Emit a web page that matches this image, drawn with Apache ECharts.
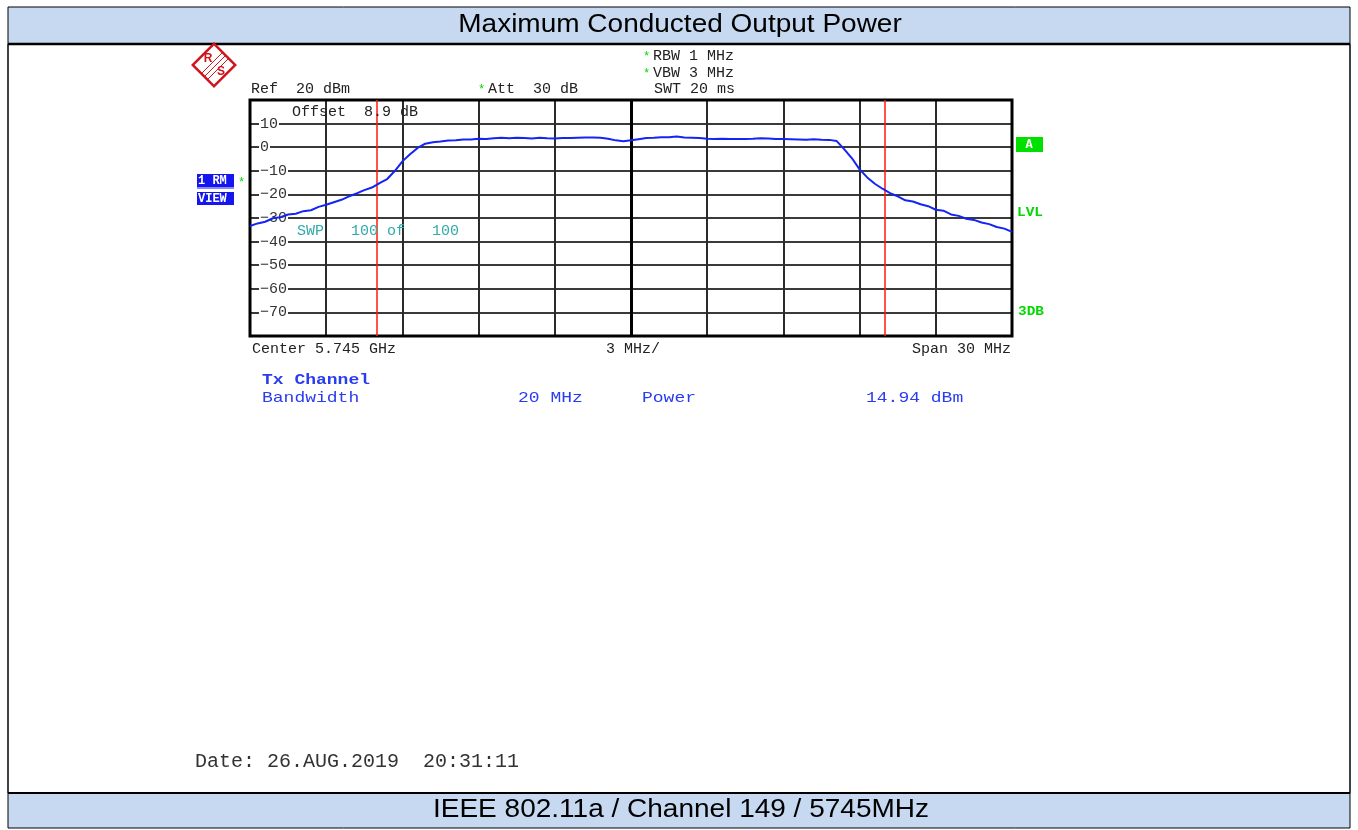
<!DOCTYPE html>
<html>
<head>
<meta charset="utf-8">
<title>Maximum Conducted Output Power</title>
<script src="https://cdn.jsdelivr.net/npm/echarts/dist/echarts.min.js"></script>
<style>
    html, body { margin: 0; padding: 0; background: #fff; }
    #main { width: 1358px; height: 830px; }
</style>
</head>
<body>
<div id="main"></div>
<script>
// sweep points, offset from center 5.745 GHz (MHz)
const freqMHz = [
    -15.0, -14.7, -14.4, -14.1, -13.8, -13.5, -13.2, -12.9, -12.6, -12.3,
    -12.0, -11.7, -11.4, -11.1, -10.8, -10.5, -10.2, -9.9, -9.6, -9.3,
    -9.0, -8.7, -8.4, -8.1, -7.8, -7.5, -7.2, -6.9, -6.6, -6.3,
    -6.0, -5.7, -5.4, -5.1, -4.8, -4.5, -4.2, -3.9, -3.6, -3.3,
    -3.0, -2.7, -2.4, -2.1, -1.8, -1.5, -1.2, -0.9, -0.6, -0.3,
    0.0, 0.3, 0.6, 0.9, 1.2, 1.5, 1.8, 2.1, 2.4, 2.7,
    3.0, 3.3, 3.6, 3.9, 4.2, 4.5, 4.8, 5.1, 5.4, 5.7,
    6.0, 6.3, 6.6, 6.9, 7.2, 7.5, 7.8, 8.1, 8.4, 8.7,
    9.0, 9.3, 9.6, 9.9, 10.2, 10.5, 10.8, 11.1, 11.4, 11.7,
    12.0, 12.3, 12.6, 12.9, 13.2, 13.5, 13.8, 14.1, 14.4, 14.7,
    15.0
]
// trace level (dBm)
const levelDbm = [
    -33.4, -32.3, -31.6, -30.1, -29.7, -28.5, -28.2, -27.1, -26.7, -25.3,
    -24.4, -23.3, -22.3, -20.8, -19.6, -18.2, -17.1, -15.2, -13.5, -10.1,
    -6.0, -3.0, -0.3, 1.5, 2.1, 2.4, 2.8, 2.9, 3.3, 3.3,
    3.6, 3.5, 3.8, 4.0, 3.8, 4.0, 3.9, 3.7, 4.0, 3.8,
    3.7, 3.9, 3.9, 4.0, 4.1, 4.1, 4.0, 3.6, 2.9, 2.5,
    2.9, 3.4, 3.9, 4.0, 4.2, 4.2, 4.5, 4.1, 4.0, 3.9,
    3.6, 3.5, 3.6, 3.5, 3.5, 3.5, 3.6, 3.8, 3.7, 3.5,
    3.5, 3.4, 3.3, 3.2, 3.4, 3.2, 3.1, 2.6, -0.9, -4.7,
    -9.4, -12.8, -15.5, -17.6, -19.5, -20.8, -22.5, -23.0, -24.2, -25.0,
    -26.5, -26.9, -28.5, -29.1, -30.3, -30.8, -31.9, -32.6, -33.8, -34.5,
    -35.9
]
// channel limit lines (MHz)
const markerMHz = [-10, 10]

const titleText = 'Maximum Conducted Output Power'
const footText = 'IEEE 802.11a / Channel 149 / 5745MHz'

const mono = '"Liberation Mono", "Courier New", monospace'
const sans = '"Liberation Sans", Arial, sans-serif'
const ink = '#222'
const blue = '#2a3cf0'
const teal = '#33aaaa'
const green = '#00d800'
const rsRed = '#d0141c'

function txt(x, y, s, color, size, extra, scaleX) {
    return {
        type: 'text',
        x: x,
        y: y,
        z: 100,
        scaleX: scaleX || 1,
        style: Object.assign({
            text: s,
            fill: color || ink,
            font: (size || 15) + 'px ' + mono,
            verticalAlign: 'middle',
        }, extra || {}),
    }
}

const chart = echarts.init(document.getElementById('main'))

const traceData = freqMHz.map((f, i) => [f, levelDbm[i]])

const option = {
    animation: false,
    backgroundColor: '#fff',
    grid: {
        left: 250,
        top: 100,
        width: 762,
        height: 236,
        show: true,
        borderColor: '#000',
        borderWidth: 3,
        z: 3,
    },
    xAxis: {
        type: 'value',
        min: -15,
        max: 15,
        interval: 3,
        axisLine: { show: false },
        axisTick: { show: false },
        axisLabel: { show: false },
        splitLine: { lineStyle: { color: '#2b2b2b', width: 2 } },
    },
    yAxis: {
        type: 'value',
        min: -80,
        max: 20,
        interval: 10,
        axisLine: { show: false },
        axisTick: { show: false },
        splitLine: { lineStyle: { color: '#3a3a3a', width: 2 } },
        axisLabel: {
            inside: true,
            margin: 9,
            showMinLabel: false,
            showMaxLabel: false,
            color: '#333',
            fontFamily: mono,
            fontSize: 15,
            backgroundColor: '#fff',
            padding: [0, 1, 0, 1],
            formatter: (v) => String(v).replace('-', '\u2212'),
        },
    },
    series: [
        {
            type: 'line',
            data: traceData,
            showSymbol: false,
            z: 5,
            lineStyle: { color: '#1424f5', width: 2 },
            markLine: {
                silent: true,
                symbol: 'none',
                label: { show: false },
                data: [
                    { xAxis: 0, lineStyle: { color: '#000', width: 3, type: 'solid' } },
                ].concat(markerMHz.map((m) => ({
                    xAxis: m,
                    lineStyle: { color: '#ff1a0a', width: 1.5, type: 'solid' },
                }))),
            },
        },
    ],
    graphic: [
        // page frame and header / footer bars
        { type: 'rect', shape: { x: 8, y: 7, width: 1342, height: 37 }, style: { fill: '#c6d9f1', stroke: '#000', lineWidth: 1 } },
        { type: 'line', shape: { x1: 8, y1: 44, x2: 1350, y2: 44 }, style: { stroke: '#000', lineWidth: 2.5 } },
        { type: 'rect', shape: { x: 8, y: 793, width: 1342, height: 35 }, style: { fill: '#c6d9f1', stroke: '#000', lineWidth: 1 } },
        { type: 'line', shape: { x1: 8, y1: 793, x2: 1350, y2: 793 }, style: { stroke: '#000', lineWidth: 2 } },
        { type: 'line', shape: { x1: 8, y1: 44, x2: 8, y2: 793 }, style: { stroke: '#000', lineWidth: 1.5 } },
        { type: 'line', shape: { x1: 1350, y1: 44, x2: 1350, y2: 793 }, style: { stroke: '#000', lineWidth: 1.5 } },
        {
            type: 'text', x: 680, y: 25, scaleX: 1.12,
            style: { text: titleText, font: '25px ' + sans, fill: '#000', align: 'center', verticalAlign: 'middle' },
        },
        {
            type: 'text', x: 681, y: 810, scaleX: 1.12,
            style: { text: footText, font: '25px ' + sans, fill: '#000', align: 'center', verticalAlign: 'middle' },
        },

        // R&S logo
        {
            type: 'rect', x: 214, y: 65, rotation: Math.PI / 4,
            shape: { x: -15, y: -15, width: 30, height: 30 },
            style: { fill: '#fff', stroke: rsRed, lineWidth: 2.5 },
        },
        { type: 'line', shape: { x1: 201, y1: 74, x2: 223, y2: 52 }, style: { stroke: rsRed, lineWidth: 1 } },
        { type: 'line', shape: { x1: 204, y1: 77, x2: 226, y2: 55 }, style: { stroke: rsRed, lineWidth: 1 } },
        { type: 'line', shape: { x1: 207, y1: 80, x2: 229, y2: 58 }, style: { stroke: rsRed, lineWidth: 1 } },
        { type: 'text', x: 208, y: 59, style: { text: 'R', font: 'bold 12px ' + sans, fill: rsRed, align: 'center', verticalAlign: 'middle' } },
        { type: 'text', x: 221, y: 72, style: { text: 'S', font: 'bold 12px ' + sans, fill: rsRed, align: 'center', verticalAlign: 'middle' } },

        // instrument settings
        txt(251, 89, 'Ref  20 dBm'),
        txt(478, 90, '*', green, 12),
        txt(488, 89, 'Att  30 dB'),
        txt(643, 57, '*', green, 12),
        txt(653, 56, 'RBW 1 MHz'),
        txt(643, 74, '*', green, 12),
        txt(653, 73, 'VBW 3 MHz'),
        txt(654, 89, 'SWT 20 ms'),
        txt(292, 112, 'Offset  8.9 dB'),
        txt(297, 231, 'SWP   100 of   100', teal),
        txt(252, 349, 'Center 5.745 GHz'),
        txt(606, 349, '3 MHz/'),
        txt(1011, 349, 'Span 30 MHz', ink, 15, { align: 'right' }),

        // trace badges
        { type: 'rect', shape: { x: 197, y: 174, width: 37, height: 13 }, style: { fill: '#1515ee' } },
        txt(198, 181, '1 RM', '#fff', 12, { font: 'bold 12px ' + mono }),
        { type: 'line', shape: { x1: 197, y1: 188, x2: 234, y2: 188 }, style: { stroke: '#1515ee', lineWidth: 1 } },
        { type: 'rect', shape: { x: 197, y: 192, width: 37, height: 13 }, style: { fill: '#1515ee' } },
        txt(198, 199, 'VIEW', '#fff', 12, { font: 'bold 12px ' + mono }),
        txt(238, 183, '*', green, 12),
        { type: 'rect', shape: { x: 1016, y: 137, width: 27, height: 15 }, style: { fill: '#00e000' } },
        txt(1029, 145, 'A', '#fff', 12, { font: 'bold 12px ' + mono, align: 'center' }),
        txt(1017, 213, 'LVL', green, 12, { font: 'bold 12px ' + mono }, 1.2),
        txt(1018, 312, '3DB', green, 12, { font: 'bold 12px ' + mono }, 1.2),

        // channel power result
        txt(262, 380, 'Tx Channel', blue, 15, { font: 'bold 15px ' + mono }, 1.2),
        txt(262, 398, 'Bandwidth', blue, 15, null, 1.2),
        txt(518, 398, '20 MHz', blue, 15, null, 1.2),
        txt(642, 398, 'Power', blue, 15, null, 1.2),
        txt(866, 398, '14.94 dBm', blue, 15, null, 1.2),

        txt(195, 762, 'Date: 26.AUG.2019  20:31:11', '#333', 20),
    ],
}

option && chart.setOption(option)
window.onresize = () => {
    chart.resize()
}
</script>
</body>
</html>
